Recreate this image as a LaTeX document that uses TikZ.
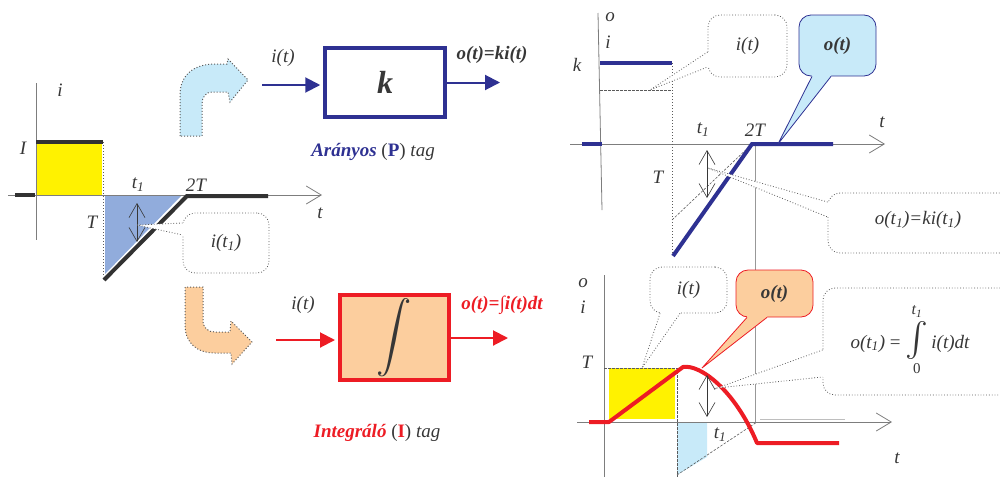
\RequirePackage{fix-cm}
\documentclass[tikz,border=0pt]{standalone}
\usepackage{fontspec}
\setmainfont{Liberation Serif}
\usetikzlibrary{arrows.meta,calc}
\definecolor{navy}{RGB}{46,49,146}
\definecolor{lblue}{RGB}{200,234,249}
\definecolor{yel}{RGB}{255,242,0}
\definecolor{triblue}{RGB}{145,172,220}
\definecolor{peach}{RGB}{252,206,158}
\definecolor{myred}{RGB}{237,28,36}
\definecolor{txt}{RGB}{55,55,55}
\definecolor{axgrey}{RGB}{125,125,125}
\definecolor{dotgrey}{RGB}{90,90,90}
\definecolor{barc}{RGB}{50,50,50}
\definecolor{faint}{RGB}{190,190,190}
\tikzset{
  lbl/.style={font=\fontsize{19}{22}\selectfont\itshape, text=txt, inner sep=0pt},
  blbl/.style={font=\fontsize{19}{22}\selectfont\bfseries\itshape, text=txt, inner sep=0pt},
  thinax/.style={draw=axgrey, line width=0.8pt},
  axarr/.style={thinax, -{Straight Barb[length=15pt,width=18pt]}},
  dbl/.style={draw=txt, line width=0.6pt, >={Straight Barb[length=14pt,width=16pt]}, <->},
  cbox/.style={draw=dotgrey, dotted, line width=0.8pt, rounded corners=12pt, fill=white, inner sep=0pt,
    font=\fontsize{19}{22}\selectfont\itshape, text=txt},
  cline/.style={draw=dotgrey, dotted, line width=0.8pt},
  dotv/.style={draw=dotgrey, dotted, line width=1pt},
  dsh/.style={draw=dotgrey, dashed, line width=0.6pt, dash pattern=on 2.5pt off 1.5pt},
  bar/.style={line width=4pt, draw=barc},
  bluebar/.style={line width=4pt, draw=navy},
  redbar/.style={line width=4pt, draw=myred, line join=round},
  navarr/.style={draw=navy, line width=2pt, -{Triangle[length=15pt,width=15pt]}},
  redarr/.style={draw=myred, line width=2pt, -{Triangle[length=15pt,width=15pt]}},
}
\begin{document}
\begin{tikzpicture}[x=1pt,y=-1pt]
\useasboundingbox (0,0) rectangle (1000,477);
\clip (0,0) rectangle (1000,477);

% ---------------- left graph ----------------
\fill[yel] (37,144) rectangle (102,195);
\fill[triblue] (105,196) -- (181,196) -- (105,274) -- cycle;
\draw[thinax] (36,83) -- (36,240);
\draw[dotv] (103,142) -- (103,277);
\draw[axarr] (8,195) -- (322,195);
\draw[bar] (36,142) -- (103,142);
\draw[bar] (15,195) -- (35,195);
\draw[bar] (104,280) -- (187,196) -- (268,196);
\node[lbl] (l1i) at (60,90) {i};
\node[lbl] (l1I) at (23,148) {I};
\node[lbl] (l1t1) at (138,185) {t\textsubscript{1}};
\node[lbl] (l12T) at (196,185) {2T};
\node[lbl] (l1t) at (320,213) {t};
\node[lbl] (l1T) at (92,222) {T};
\coordinate (d1a) at (137,203); \coordinate (d1b) at (137,242);
\draw[dbl] (d1a) -- (d1b);

% callout i(t1)
\node[cbox, minimum width=86pt, minimum height=60pt] (c1) at (226,243) {i(t\textsubscript{1})};
\coordinate (c1tip) at (137,225);
\coordinate (c1a) at ($(c1.west)+(0,-20)$);
\coordinate (c1b) at ($(c1.west)+(0,-8)$);
\fill[white] (c1a) -- ($(c1a)+(3,0)$) -- ($(c1b)+(3,0)$) -- (c1b) -- (c1tip) -- cycle;
\draw[cline] (c1a) -- (c1tip) -- (c1b);

% ---------------- curved arrows ----------------
\draw[fill=lblue, draw=dotgrey, dotted, line width=1pt]
  (180,136) -- (180,95) .. controls (180,74) and (195,64) .. (215,64) -- (227,64) -- (228,59)
  -- (248,80) -- (230,102) -- (228,92) -- (212,92) .. controls (206,92) and (202,97) .. (202,104)
  -- (202,136) -- cycle;
\draw[fill=peach, draw=dotgrey, dotted, line width=1pt]
  (185,287) -- (185,325) .. controls (185,343) and (197,353) .. (215,353) -- (231,353) -- (232,364)
  -- (252,342) -- (231,321) -- (230,332) -- (215,332) .. controls (208,332) and (203,328) .. (203,320)
  -- (203,287) -- cycle;

% ---------------- P block ----------------
\node[draw=navy, line width=3.5pt, minimum width=120pt, minimum height=69pt,
  font=\fontsize{32}{36}\selectfont\bfseries\itshape, text=txt] (kb) at (385,82.5) {k};
\coordinate (kin) at (262,85);
\coordinate (kout) at (500,82.5);
\draw[navarr, shorten >=3pt] (kin) -- (kin -| kb.west);
\draw[navarr] (kb.east) -- (kout);
\node[lbl] (kinl) at (283,58) {i(t)};
\node[blbl] (koutl) at (492,55) {o(t)=ki(t)};
\node[lbl] (ptag) at (373,152) {\textcolor{navy}{\bfseries Arányos} \textup{(\textcolor{navy}{\bfseries P})} tag};

% ---------------- I block ----------------
\node[draw=myred, fill=peach, line width=4pt, minimum width=109pt, minimum height=79pt,
  text=txt] (ib) at (394.5,337.5) {\resizebox{!}{48pt}{$\displaystyle\int$}};
\coordinate (iin) at (276,340);
\coordinate (iout) at (508,338);
\draw[redarr, shorten >=3pt] (iin) -- (iin -| ib.west);
\draw[redarr] (ib.east |- iout) -- (iout);
\node[lbl] (iinl) at (303,305) {i(t)};
\node[blbl, text=myred] (ioutl) at (502,305) {o(t)=∫i(t)dt};
\node[lbl] (itag) at (377,433) {\textcolor{myred}{\bfseries Integráló} \textup{(\textcolor{myred}{\bfseries I})} tag};

% ---------------- top right graph ----------------
\draw[thinax] (598,13) -- (602,210);
\draw[axarr] (570,144) -- (885,144);
\draw[dsh] (600,90) -- (672,90);
\draw[dotv] (672,63) -- (672,253);
\draw[draw=faint!80!black, line width=0.6pt] (755,144) -- (755,422);
\draw[dsh] (672,220) -- (752,144);
\draw[bluebar] (600,63) -- (672,63);
\draw[bluebar] (582,144) -- (602,144);
\draw[bluebar] (673,256) -- (752,144) -- (833,144);
\node[lbl] (r1o) at (610,17) {o};
\node[lbl] (r1i) at (608,42) {i};
\node[lbl] (r1k) at (577,65) {k};
\node[lbl] (r1t) at (882,122) {t};
\node[lbl] (r1t1) at (703,130) {t\textsubscript{1}};
\node[lbl] (r12T) at (755,130) {2T};
\node[lbl] (r1T) at (658,177) {T};
\coordinate (d2a) at (707,150); \coordinate (d2b) at (707,198);
\draw[dbl] (d2a) -- (d2b);

% ---------------- bottom right graph ----------------
\fill[yel] (609,368) rectangle (675,419);
\fill[lblue] (677,423) -- (707,423) -- (707,457) -- (677,475) -- cycle;
\draw[thinax] (604,275) -- (604,477);
\draw[dsh] (604,368) -- (677,368) -- (677,477);
\draw[dsh] (677,475) -- (757,422);
\draw[draw=faint, line width=0.6pt] (760,419) -- (845,419);
\draw[axarr] (577,422) -- (892,422);
\draw[redbar] (589,422) -- (609,422) -- (683,367) .. controls (700,364) and (735,390) .. (757,443) -- (839,443);
\node[lbl] (r2o) at (583,283) {o};
\node[lbl] (r2i) at (583,307) {i};
\node[lbl] (r2T) at (587,362) {T};
\node[lbl] (r2t1) at (720,435) {t\textsubscript{1}};
\node[lbl] (r2t) at (897,458) {t};
\coordinate (d3a) at (707,375); \coordinate (d3b) at (707,417);
\draw[dbl] (d3a) -- (d3b);

% ---------------- callouts right ----------------
% i(t) top
\node[cbox, minimum width=79pt, minimum height=62pt] (c2) at (747.5,46) {i(t)};
\coordinate (c2tip) at (650,90);
\coordinate (c2a) at ($(c2.west)+(0,6)$);
\coordinate (c2b) at ($(c2.west)+(0,21)$);
\fill[white] (c2a) -- ($(c2a)+(3,0)$) -- ($(c2b)+(3,0)$) -- (c2b) -- (c2tip) -- cycle;
\draw[cline] (c2a) -- (c2tip) -- (c2b);
% o(t) top (blue)
\node[cbox, solid, draw=navy, fill=lblue, font=\fontsize{19}{22}\selectfont\bfseries\itshape,
  minimum width=77pt, minimum height=61pt] (c3) at (837.5,45.5) {o(t)};
\coordinate (c3tip) at (778,144);
\coordinate (c3a) at ($(c3.south)+(-25.5,0)$);
\coordinate (c3b) at ($(c3.south)+(-6.5,0)$);
\fill[lblue] (c3a) -- ($(c3a)+(0,-3)$) -- ($(c3b)+(0,-3)$) -- (c3b) -- (c3tip) -- cycle;
\draw[draw=navy, line width=0.8pt] (c3a) -- (c3tip) -- (c3b);
% o(t1)=ki(t1)
\node[cbox, minimum width=220pt, minimum height=60pt] (c4) at (938,223) {};
\node[lbl] (c4t) at (918,220) {o(t\textsubscript{1})=ki(t\textsubscript{1})};
\coordinate (c4tip) at (708,168);
\coordinate (c4a) at ($(c4.west)+(0,-21)$);
\coordinate (c4b) at ($(c4.west)+(0,-6)$);
\fill[white] (c4a) -- ($(c4a)+(3,0)$) -- ($(c4b)+(3,0)$) -- (c4b) -- (c4tip) -- cycle;
\draw[cline] (c4a) -- (c4tip) -- (c4b);
% i(t) bottom
\node[cbox, minimum width=77pt, minimum height=46pt] (c5) at (688.5,290) {i(t)};
\coordinate (c5tip) at (642,368);
\coordinate (c5a) at ($(c5.south)+(-28.5,0)$);
\coordinate (c5b) at ($(c5.south)+(-8.5,0)$);
\fill[white] (c5a) -- ($(c5a)+(0,-3)$) -- ($(c5b)+(0,-3)$) -- (c5b) -- (c5tip) -- cycle;
\draw[cline] (c5a) -- (c5tip) -- (c5b);
% o(t) bottom (peach)
\node[cbox, solid, draw=myred, fill=peach, font=\fontsize{19}{22}\selectfont\bfseries\itshape,
  minimum width=77pt, minimum height=47pt] (c6) at (774.5,293.5) {o(t)};
\coordinate (c6tip) at (702,368);
\coordinate (c6a) at ($(c6.south)+(-27.5,0)$);
\coordinate (c6b) at ($(c6.south)+(-7.5,0)$);
\fill[peach] (c6a) -- ($(c6a)+(0,-3)$) -- ($(c6b)+(0,-3)$) -- (c6b) -- (c6tip) -- cycle;
\draw[draw=myred, line width=0.8pt] (c6a) -- (c6tip) -- (c6b);
% integral formula
\node[cbox, minimum width=220pt, minimum height=107pt] (c7) at (933,341.5) {};
\node[lbl, anchor=base] (c7t) at (910,348)
  {o(t\textsubscript{1}) \textup{=} \raisebox{-25pt}{\shortstack{{\fontsize{16}{16}\selectfont t\textsubscript{1}}\\[1pt]\resizebox*{!}{38pt}{$\int$}\\[1pt]{\fontsize{15}{15}\selectfont\textup{0}}}}\,i(t)dt};
\coordinate (c7tip) at (717,388);
\coordinate (c7a) at ($(c7.west)+(0,8.5)$);
\coordinate (c7b) at ($(c7.west)+(0,35.5)$);
\fill[white] (c7a) -- ($(c7a)+(3,0)$) -- ($(c7b)+(3,0)$) -- (c7b) -- (c7tip) -- cycle;
\draw[cline] (c7a) -- (c7tip) -- (c7b);
\end{tikzpicture}
\end{document}
